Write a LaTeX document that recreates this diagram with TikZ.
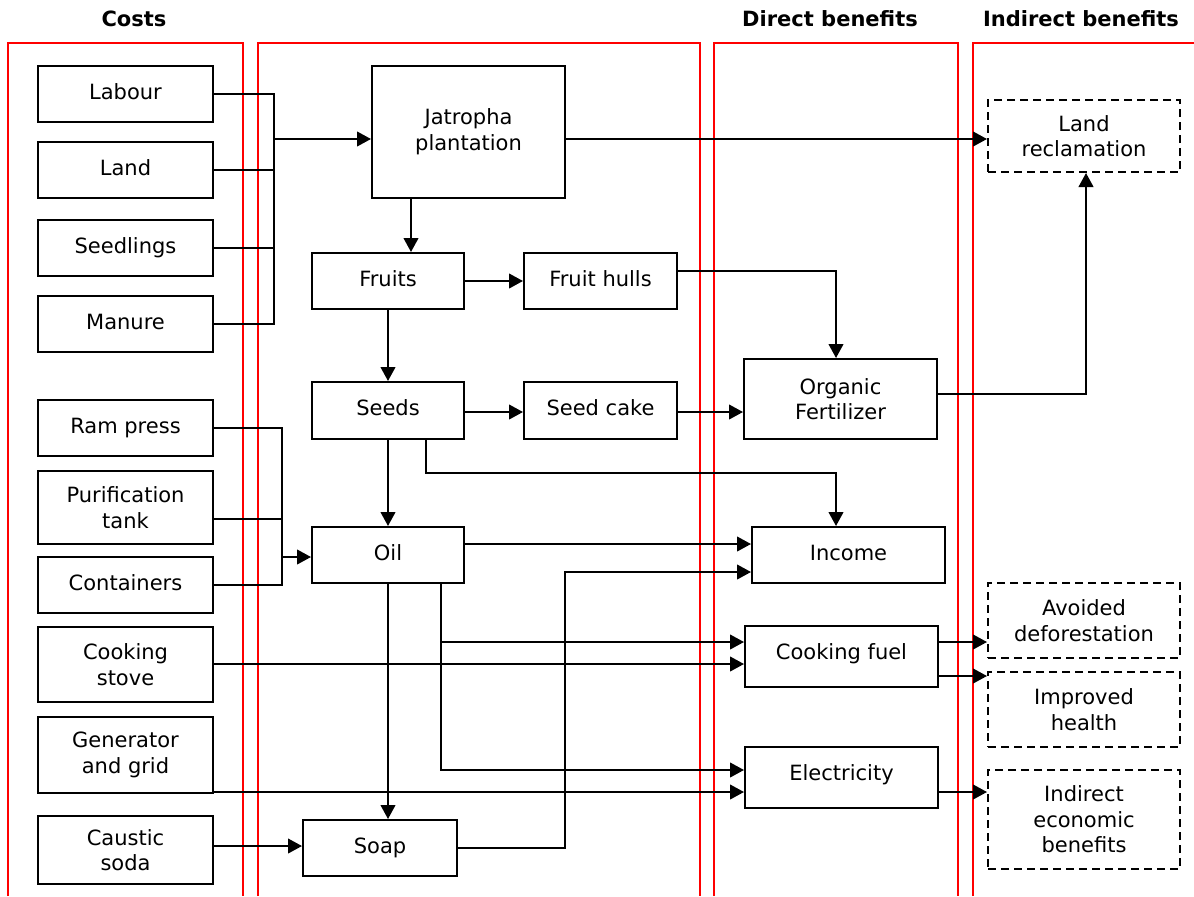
\documentclass[tikz,border=0pt]{standalone}
\usepackage{fontspec}
\setmainfont{DejaVu Sans}
\usetikzlibrary{arrows.meta}
\newcommand\bx[7][box]{\node[#1, minimum width={(#4-#2)*0.75pt}, minimum height={(#5-#3)*0.75pt}] (#6) at ({(#2+#4)/2},{(#3+#5)/2}) {#7};}
\begin{document}
\begin{tikzpicture}[x=0.75pt,y=-0.75pt,
  every node/.style={font=\fontsize{15.75pt}{19.2pt}\selectfont},
  box/.style={draw, line width=1.5pt, inner sep=0pt, align=center},
  onebox/.style={box, text height=11.8pt, text depth=4.25pt},
  dbox/.style={box, dash pattern=on 6pt off 3.75pt},
  ln/.style={line width=1.5pt},
  arr/.style={ln, -{Triangle[length=10.5pt,width=11pt]}},
  frame/.style={draw=red, line width=1.4pt},
  hdr/.style={font=\bfseries\fontsize{15.75pt}{19.2pt}\selectfont, anchor=base}]
\useasboundingbox (0,0) rectangle (1194,896);

% column frames
\draw[frame] (8,896) -- (8,43) -- (243,43) -- (243,896);
\draw[frame] (258,896) -- (258,43) -- (700,43) -- (700,896);
\draw[frame] (714,896) -- (714,43) -- (958,43) -- (958,896);
\draw[frame] (973,896) -- (973,43) -- (1196,43);

% headers
\node[hdr] (hcost) at (134,26) {Costs};
\node[hdr] (hdir) at (830,26) {Direct benefits};
\node[hdr] (hind) at (1081,26) {Indirect benefits};

% costs
\bx[onebox]{38}{66}{213}{122}{labour}{Labour}
\bx[onebox]{38}{142}{213}{198}{land}{Land}
\bx[onebox]{38}{220}{213}{276}{seedl}{Seedlings}
\bx[onebox]{38}{296}{213}{352}{manure}{Manure}
\bx[onebox]{38}{400}{213}{456}{ram}{Ram press}
\bx{38}{471}{213}{544}{pur}{Purification\\tank}
\bx[onebox]{38}{557}{213}{613}{cont}{Containers}
\bx{38}{627}{213}{702}{stove}{Cooking\\stove}
\bx{38}{717}{213}{793}{gen}{Generator\\and grid}
\bx{38}{816}{213}{884}{caustic}{Caustic\\soda}

% process
\bx{372}{66}{565}{198}{jat}{Jatropha\\plantation}
\bx[onebox]{312}{253}{464}{309}{fruits}{Fruits}
\bx[onebox]{524}{253}{677}{309}{hulls}{Fruit hulls}
\bx[onebox]{312}{382}{464}{439}{seeds}{Seeds}
\bx[onebox]{524}{382}{677}{439}{cake}{Seed cake}
\bx[onebox]{312}{527}{464}{583}{oil}{Oil}
\bx[onebox]{303}{820}{457}{876}{soap}{Soap}

% direct benefits
\bx{744}{359}{937}{439}{fert}{Organic\\Fertilizer}
\bx[onebox]{752}{527}{945}{583}{income}{Income}
\bx[onebox,text depth=7pt]{745}{626}{938}{687}{cookf}{Cooking fuel}
\bx[onebox,text depth=7pt]{745}{747}{938}{808}{elec}{Electricity}

% indirect benefits
\bx[dbox]{988}{100}{1180}{172}{landrec}{Land\\reclamation}
\bx[dbox]{988}{583}{1180}{658}{avoid}{Avoided\\deforestation}
\bx[dbox]{988}{672}{1180}{747}{health}{Improved\\health}
\bx[dbox]{988}{770}{1180}{869}{ieb}{Indirect\\economic\\benefits}

% coordinates
\coordinate (b1) at (274,139);
\coordinate (j1) at (411,0);
\coordinate (h1) at (836,271);
\coordinate (k1) at (0,412);
\coordinate (f1) at (1086,394);
\coordinate (s1) at (426,473);
\coordinate (s2) at (836,473);
\coordinate (r1) at (282,557);
\coordinate (p1) at (282,519);
\coordinate (i1) at (0,544);
\coordinate (i2) at (565,572);
\coordinate (o1) at (441,642);
\coordinate (o2) at (441,770);
\coordinate (c2) at (0,664);
\coordinate (g1) at (0,792);
\coordinate (q1) at (0,846);
\coordinate (a2) at (0,676);

% connectors
\draw[ln] (labour.east) -| (b1);
\draw[ln] (manure.east) -| (b1);
\draw[ln] (land.east) -- (land.east -| b1);
\draw[ln] (seedl.east) -- (seedl.east -| b1);
\draw[arr] (b1) -- (b1 -| jat.west);
\draw[arr] (b1 -| jat.east) -- (b1 -| landrec.west);
\draw[arr] (jat.south -| j1) -- (fruits.north -| j1);
\draw[arr] (fruits.east) -- (hulls.west);
\draw[arr] (hulls.east |- h1) -- (h1) -- (h1 |- fert.north);
\draw[arr] (fruits.south) -- (seeds.north);
\draw[arr] (seeds.east |- k1) -- (cake.west |- k1);
\draw[arr] (cake.east |- k1) -- (fert.west |- k1);
\draw[arr] (fert.east |- f1) -- (f1) -- (f1 |- landrec.south);
\draw[arr] (seeds.south -| s1) -- (s1) -- (s2) -- (s2 |- income.north);
\draw[arr] (seeds.south) -- (oil.north);
\draw[ln] (ram.east) -| (r1);
\draw[ln] (cont.east) -| (r1);
\draw[ln] (pur.east |- p1) -- (p1);
\draw[arr] (r1) -- (r1 -| oil.west);
\draw[arr] (oil.east |- i1) -- (income.west |- i1);
\draw[arr] (soap.east) -| (i2) -- (i2 -| income.west);
\draw[arr] (oil.south -| o1) -- (o2) -- (o2 -| elec.west);
\draw[arr] (o1) -- (o1 -| cookf.west);
\draw[arr] (stove.east |- c2) -- (cookf.west |- c2);
\draw[arr] (gen.east |- g1) -- (elec.west |- g1);
\draw[arr] (oil.south) -- (oil.south |- soap.north);
\draw[arr] (caustic.east |- q1) -- (soap.west |- q1);
\draw[arr] (cookf.east |- o1) -- (avoid.west |- o1);
\draw[arr] (cookf.east |- a2) -- (health.west |- a2);
\draw[arr] (elec.east |- g1) -- (ieb.west |- g1);
\end{tikzpicture}
\end{document}
